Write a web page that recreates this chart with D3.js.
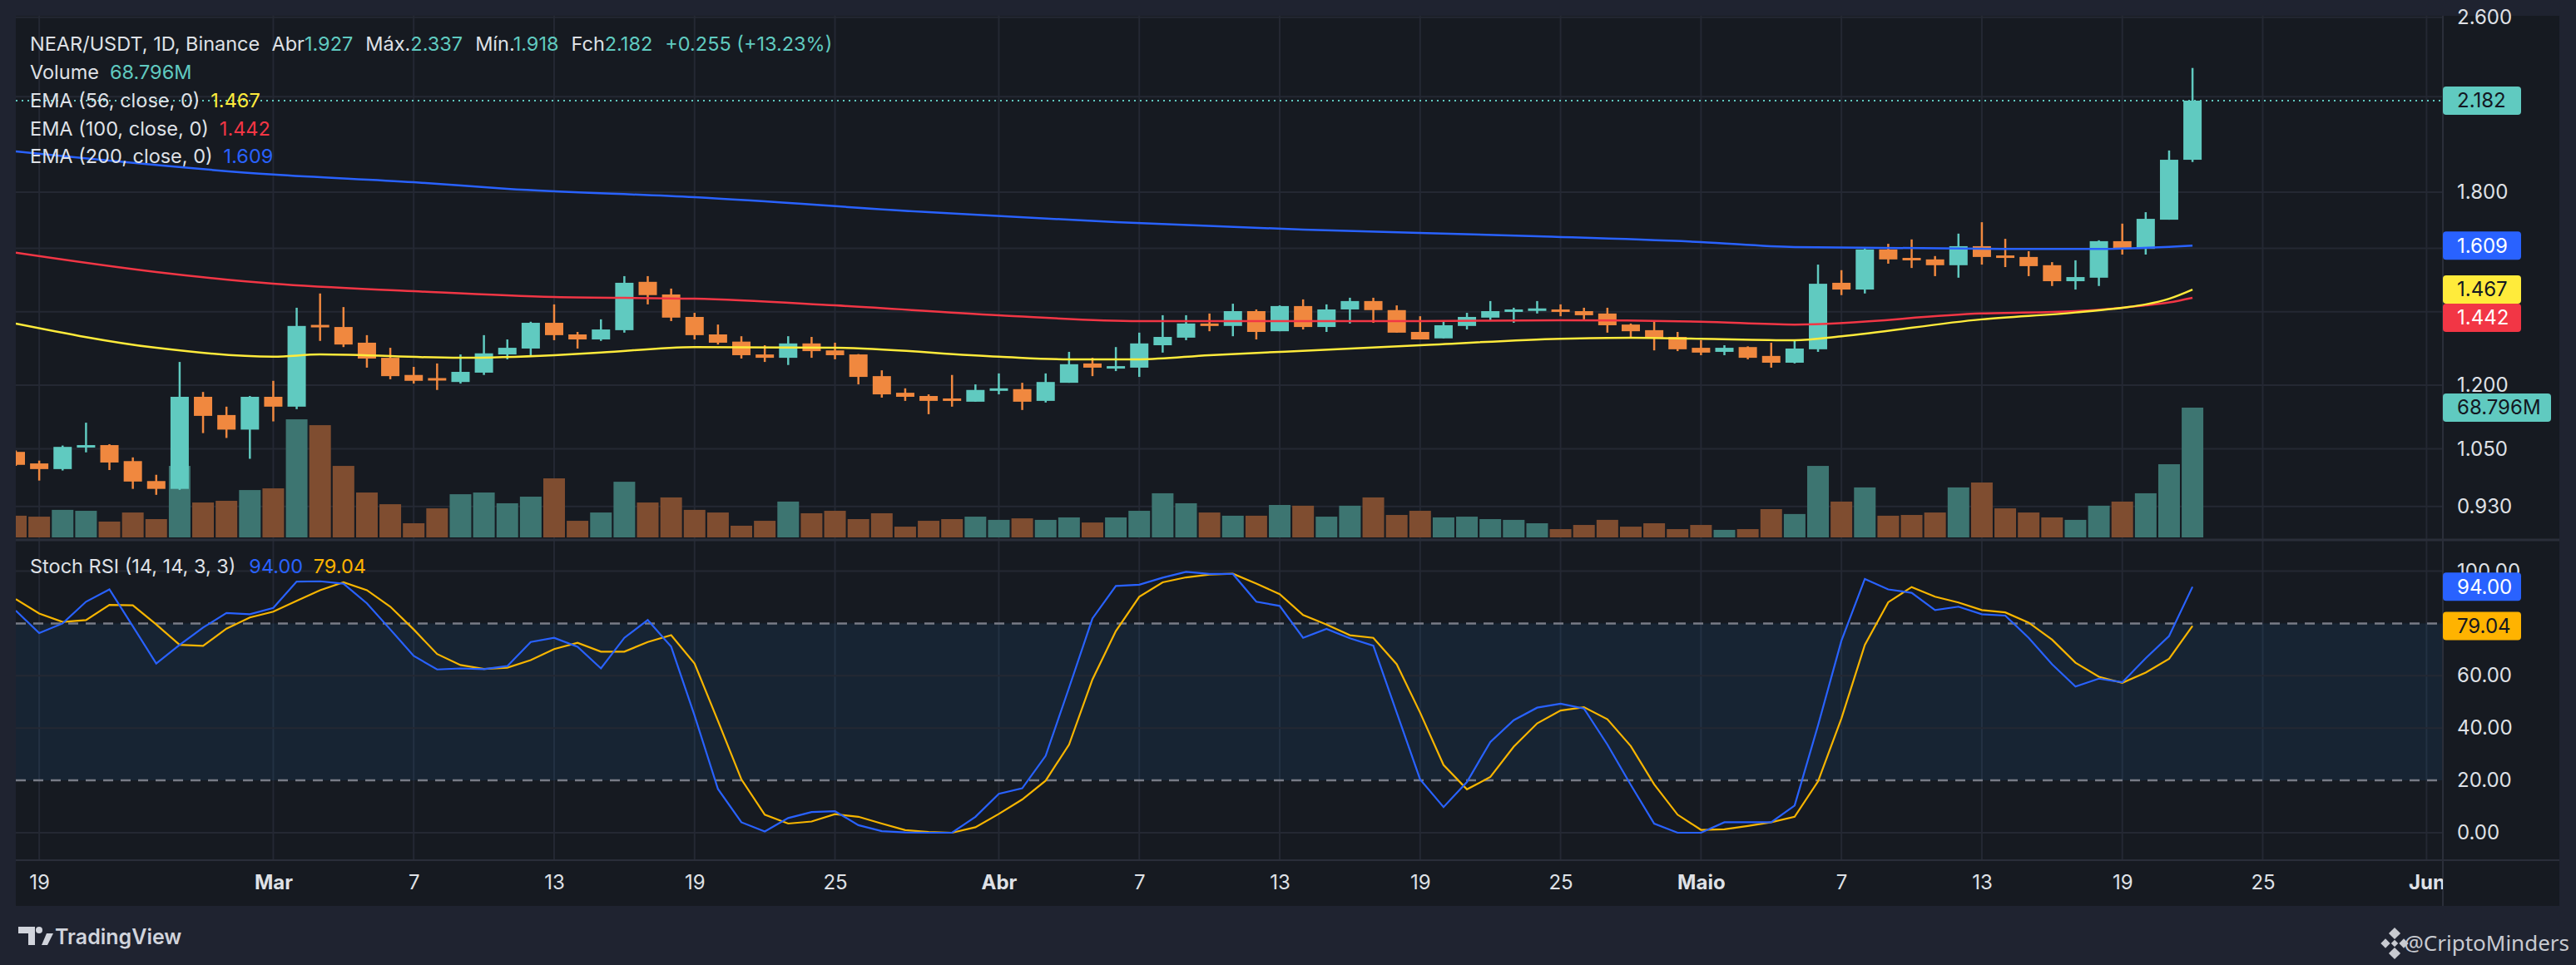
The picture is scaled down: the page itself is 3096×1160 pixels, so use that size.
<!DOCTYPE html>
<html>
<head>
<meta charset="utf-8">
<script src="https://cdn.jsdelivr.net/npm/d3@7"></script>
<style>
html, body { margin: 0; padding: 0; background: #1f2330; }
svg { display: block; font-family: Inter, "Noto Sans", sans-serif; }
</style>
</head>
<body>
<svg id="chart" width="3096" height="1160"></svg>
<script>
// daily candles, NEAR/USDT, first candle = 18 Feb
var startDay = Date.UTC(2023, 1, 18);

var opens = [1.043, 1.018, 1.006, 1.053, 1.058, 1.023, 0.981, 0.965, 1.171, 1.127,
  1.093, 1.171, 1.147, 1.362, 1.356, 1.312, 1.271, 1.226, 1.218, 1.208,
  1.232, 1.280, 1.296, 1.368, 1.335, 1.321, 1.347, 1.491, 1.452, 1.385,
  1.335, 1.315, 1.280, 1.271, 1.310, 1.291, 1.280, 1.223, 1.181, 1.173,
  1.167, 1.159, 1.188, 1.190, 1.161, 1.206, 1.256, 1.245, 1.245, 1.305,
  1.326, 1.366, 1.359, 1.402, 1.344, 1.417, 1.356, 1.407, 1.432, 1.405,
  1.342, 1.324, 1.359, 1.383, 1.402, 1.405, 1.407, 1.402, 1.395, 1.363,
  1.347, 1.328, 1.298, 1.287, 1.300, 1.276, 1.258, 1.294, 1.488, 1.467,
  1.596, 1.568, 1.563, 1.544, 1.607, 1.576, 1.571, 1.544, 1.493, 1.504,
  1.624, 1.598, 1.699, 1.927];
var highs = [1.046, 1.024, 1.057, 1.109, 1.060, 1.031, 0.994, 1.260, 1.183, 1.147,
  1.173, 1.211, 1.412, 1.455, 1.414, 1.333, 1.298, 1.247, 1.256, 1.280,
  1.333, 1.321, 1.371, 1.422, 1.342, 1.378, 1.509, 1.509, 1.470, 1.397,
  1.363, 1.330, 1.305, 1.330, 1.328, 1.312, 1.281, 1.238, 1.192, 1.177,
  1.226, 1.202, 1.230, 1.206, 1.230, 1.287, 1.271, 1.300, 1.340, 1.390,
  1.390, 1.395, 1.424, 1.407, 1.419, 1.437, 1.422, 1.442, 1.442, 1.419,
  1.387, 1.373, 1.397, 1.432, 1.412, 1.432, 1.422, 1.412, 1.412, 1.366,
  1.373, 1.342, 1.319, 1.305, 1.302, 1.312, 1.317, 1.546, 1.528, 1.601,
  1.615, 1.630, 1.574, 1.650, 1.690, 1.632, 1.590, 1.554, 1.560, 1.627,
  1.685, 1.726, 1.965, 2.337];
var lows = [1.013, 0.982, 1.003, 1.042, 1.004, 0.965, 0.953, 0.963, 1.085, 1.074,
  1.028, 1.112, 1.141, 1.317, 1.300, 1.245, 1.215, 1.204, 1.188, 1.204,
  1.226, 1.267, 1.277, 1.319, 1.296, 1.317, 1.340, 1.422, 1.373, 1.321,
  1.307, 1.269, 1.260, 1.252, 1.271, 1.267, 1.202, 1.169, 1.161, 1.129,
  1.147, 1.159, 1.177, 1.139, 1.157, 1.206, 1.223, 1.236, 1.221, 1.285,
  1.319, 1.344, 1.330, 1.321, 1.344, 1.349, 1.342, 1.366, 1.368, 1.340,
  1.321, 1.324, 1.349, 1.375, 1.368, 1.395, 1.387, 1.378, 1.340, 1.326,
  1.291, 1.289, 1.278, 1.278, 1.267, 1.245, 1.256, 1.287, 1.450, 1.455,
  1.549, 1.535, 1.509, 1.504, 1.546, 1.538, 1.509, 1.478, 1.467, 1.478,
  1.579, 1.579, 1.699, 1.918];
var closes = [1.015, 1.006, 1.054, 1.058, 1.020, 0.980, 0.965, 1.171, 1.125, 1.093,
  1.171, 1.147, 1.359, 1.357, 1.307, 1.269, 1.223, 1.211, 1.214, 1.234,
  1.283, 1.298, 1.368, 1.333, 1.321, 1.349, 1.488, 1.450, 1.383, 1.333,
  1.312, 1.278, 1.271, 1.310, 1.289, 1.278, 1.221, 1.177, 1.171, 1.161,
  1.163, 1.188, 1.192, 1.159, 1.208, 1.254, 1.245, 1.249, 1.310, 1.328,
  1.366, 1.359, 1.402, 1.342, 1.417, 1.356, 1.407, 1.432, 1.405, 1.340,
  1.321, 1.361, 1.385, 1.402, 1.407, 1.410, 1.400, 1.390, 1.361, 1.344,
  1.326, 1.294, 1.285, 1.298, 1.271, 1.258, 1.296, 1.485, 1.467, 1.596,
  1.563, 1.563, 1.544, 1.607, 1.571, 1.571, 1.541, 1.493, 1.506, 1.624,
  1.598, 1.702, 1.927, 2.182];
// volume in millions
var volumes = [11.5, 11.0, 14.6, 14.1, 8.4, 13.2, 9.7, 37.9, 18.5, 19.4,
  25.1, 26.0, 62.6, 59.5, 37.9, 23.8, 17.6, 7.5, 15.4, 22.9,
  23.8, 18.1, 21.6, 31.3, 8.8, 13.2, 29.5, 18.5, 21.2, 14.6,
  13.2, 6.2, 8.8, 19.0, 12.8, 14.1, 9.7, 12.8, 5.7, 8.8,
  9.7, 11.0, 9.3, 10.1, 9.3, 10.6, 7.9, 10.6, 14.1, 23.4,
  18.1, 13.2, 11.5, 11.5, 17.2, 16.8, 11.0, 16.8, 21.2, 11.9,
  14.1, 10.6, 11.0, 9.7, 9.3, 7.5, 4.4, 6.6, 9.3, 5.7,
  7.5, 4.4, 6.6, 4.0, 4.4, 15.0, 12.4, 37.9, 19.0, 26.5,
  11.5, 11.9, 13.2, 26.5, 29.1, 15.4, 13.2, 10.6, 9.3, 16.8,
  19.0, 23.4, 38.8, 68.796];

// EMA lines (day index, value)
var ema56Days = [0, 6, 11, 13, 19, 23, 25, 29, 35, 42, 45, 48, 51, 54, 60, 66, 69, 72, 76, 78, 84, 88, 90, 91, 92, 93];
var ema56Vals = [1.366, 1.298, 1.274, 1.280, 1.271, 1.278, 1.285, 1.300, 1.298, 1.274, 1.267, 1.267, 1.278, 1.287, 1.305, 1.323, 1.326, 1.323, 1.319, 1.330, 1.378, 1.398, 1.412, 1.422, 1.439, 1.467];
var ema100Days = [0, 6, 11, 17, 23, 29, 35, 42, 48, 54, 60, 66, 72, 76, 84, 88, 90, 91, 92, 93];
var ema100Vals = [1.585, 1.522, 1.485, 1.462, 1.444, 1.439, 1.419, 1.390, 1.373, 1.373, 1.373, 1.375, 1.371, 1.363, 1.395, 1.402, 1.412, 1.419, 1.428, 1.442];
var ema200Days = [0, 11, 17, 21, 29, 39, 47, 55, 65, 72, 76, 85, 89, 93];
var ema200Vals = [1.961, 1.868, 1.838, 1.813, 1.781, 1.726, 1.690, 1.664, 1.641, 1.621, 1.604, 1.598, 1.598, 1.609];

// Stoch RSI (14,14,3,3)
var stochK = [84.9, 76.3, 80.0, 88.3, 93.0, 78.9, 64.7, 71.8, 78.4, 84.0,
  83.5, 85.9, 96.0, 96.1, 95.2, 87.7, 77.7, 67.6, 62.4, 62.8,
  62.5, 63.7, 72.9, 74.5, 71.1, 62.8, 74.5, 81.3, 71.1, 44.8,
  16.7, 4.0, 0.5, 5.6, 7.9, 8.2, 2.9, 0.6, 0.1, 0.0,
  0.0, 6.1, 14.9, 17.0, 29.4, 55.4, 81.9, 94.3, 94.8, 97.5,
  99.7, 98.9, 98.9, 88.3, 86.7, 74.5, 77.9, 74.3, 71.5, 45.9,
  20.4, 9.8, 19.4, 34.7, 43.0, 47.8, 49.3, 47.5, 33.7, 18.3,
  3.5, 0.0, 0.0, 4.0, 4.0, 4.0, 10.4, 41.0, 73.4, 97.0,
  93.0, 91.7, 85.1, 86.4, 83.5, 83.0, 74.5, 64.4, 55.9, 58.9,
  57.5, 66.7, 75.2, 94.0];
var stochD = [89.3, 83.8, 80.6, 81.3, 87.1, 86.9, 79.6, 71.8, 71.4, 78.0,
  82.3, 84.5, 88.6, 92.7, 95.7, 92.7, 86.4, 77.7, 68.3, 64.1,
  62.6, 63.1, 66.0, 70.2, 72.6, 69.2, 69.2, 72.9, 75.5, 64.7,
  42.7, 20.4, 6.9, 3.5, 4.3, 7.1, 6.1, 3.5, 1.0, 0.3,
  0.0, 2.1, 7.2, 12.7, 19.9, 33.7, 58.6, 77.1, 90.2, 95.7,
  97.6, 98.7, 99.0, 95.2, 91.2, 83.2, 79.6, 75.5, 74.5, 64.4,
  45.9, 25.9, 16.6, 21.3, 32.9, 41.8, 46.7, 48.0, 43.4, 33.1,
  18.5, 6.9, 1.1, 1.3, 2.6, 4.0, 6.1, 19.6, 43.7, 71.8,
  88.1, 93.9, 90.2, 88.0, 85.1, 84.2, 80.3, 73.8, 65.0, 59.6,
  57.3, 61.2, 66.5, 79.04];

// grid levels; labels only where the badges leave them visible
var priceTicks = [0.93, 1.05, 1.2, 1.4, 1.6, 1.8, 2.2, 2.6];
var priceLabels = [0.93, 1.05, 1.2, 1.8, 2.6];
var stochTicks = [0, 20, 40, 60, 80, 100];
var stochLabels = [0, 20, 40, 60, 100];
var timeTicks = ["2023-02-19", "2023-03-01", "2023-03-07", "2023-03-13", "2023-03-19", "2023-03-25",
  "2023-04-01", "2023-04-07", "2023-04-13", "2023-04-19", "2023-04-25",
  "2023-05-01", "2023-05-07", "2023-05-13", "2023-05-19", "2023-05-25", "2023-06-01"];
var monthNames = ["Jan", "Fev", "Mar", "Abr", "Maio", "Jun"];

var upColor = "#60cac0", downColor = "#f0883f";
var upVol = "#3d7571", downVol = "#7f4d30";
var gridColor = "#242833", textColor = "#dfe1e6";

var DAY = 86400000;
function dayDate(i) { return new Date(startDay + i * DAY); }

var plotLeft = 19, plotRight = 2936, axisEnd = 3076;
var frameTop = 19, paneSep = 649, stochBottom = 1034, frameBottom = 1089;

var x = d3.scaleUtc().domain([dayDate(0), dayDate(103)]).range([19, 2916.4]);
var y = d3.scaleLog().domain([0.93, 2.6]).range([608.8, 20.7]);
var yv = d3.scaleLinear().domain([0, 68.796]).range([646, 490]);
var ys = d3.scaleLinear().domain([0, 100]).range([1001, 686.5]);

var svg = d3.select("#chart");

// frame background
svg.append("rect").attr("x", 0).attr("y", 0).attr("width", 3096).attr("height", 1160).attr("fill", "#1f2330");
svg.append("rect").attr("x", plotLeft).attr("y", frameTop)
  .attr("width", axisEnd - plotLeft).attr("height", frameBottom - frameTop).attr("fill", "#161a21");

var defs = svg.append("defs");
defs.append("clipPath").attr("id", "clipPrice").append("rect")
  .attr("x", plotLeft).attr("y", frameTop).attr("width", plotRight - plotLeft).attr("height", paneSep - frameTop);
defs.append("clipPath").attr("id", "clipStoch").append("rect")
  .attr("x", plotLeft).attr("y", paneSep).attr("width", plotRight - plotLeft).attr("height", stochBottom - paneSep);
defs.append("clipPath").attr("id", "clipTime").append("rect")
  .attr("x", plotLeft).attr("y", stochBottom).attr("width", plotRight - plotLeft).attr("height", frameBottom - stochBottom);

// vertical grid
var tickDates = timeTicks.map(function (s) { return new Date(s + "T00:00:00Z"); });
svg.append("g").selectAll("line").data(tickDates).enter().append("line")
  .attr("x1", function (d) { return x(d); }).attr("x2", function (d) { return x(d); })
  .attr("y1", frameTop).attr("y2", stochBottom)
  .attr("stroke", gridColor).attr("stroke-width", 2);

// ---- price pane ----
var pricePane = svg.append("g").attr("clip-path", "url(#clipPrice)");

pricePane.append("g").selectAll("line").data(priceTicks).enter().append("line")
  .attr("x1", plotLeft).attr("x2", plotRight)
  .attr("y1", function (d) { return y(d); }).attr("y2", function (d) { return y(d); })
  .attr("stroke", gridColor).attr("stroke-width", 2);

var idx = d3.range(opens.length);

pricePane.append("g").selectAll("rect").data(idx).enter().append("rect")
  .attr("x", function (i) { return x(dayDate(i)) - 13; })
  .attr("width", 26)
  .attr("y", function (i) { return yv(volumes[i]); })
  .attr("height", function (i) { return yv(0) - yv(volumes[i]); })
  .attr("fill", function (i) { return closes[i] >= opens[i] ? upVol : downVol; });

var candles = pricePane.append("g");
candles.selectAll("line").data(idx).enter().append("line")
  .attr("x1", function (i) { return x(dayDate(i)); })
  .attr("x2", function (i) { return x(dayDate(i)); })
  .attr("y1", function (i) { return y(highs[i]); })
  .attr("y2", function (i) { return y(lows[i]); })
  .attr("stroke", function (i) { return closes[i] >= opens[i] ? upColor : downColor; })
  .attr("stroke-width", 2.5);
candles.selectAll("rect").data(idx).enter().append("rect")
  .attr("x", function (i) { return x(dayDate(i)) - 11; })
  .attr("width", 22)
  .attr("y", function (i) { return y(Math.max(opens[i], closes[i])); })
  .attr("height", function (i) { return Math.max(3, Math.abs(y(opens[i]) - y(closes[i]))); })
  .attr("fill", function (i) { return closes[i] >= opens[i] ? upColor : downColor; });

function emaLine(days, vals, color) {
  var line = d3.line()
    .x(function (d) { return x(dayDate(d)); })
    .y(function (d, k) { return y(vals[k]); })
    .curve(d3.curveMonotoneX);
  pricePane.append("path").attr("d", line(days))
    .attr("fill", "none").attr("stroke", color).attr("stroke-width", 2.5);
}
emaLine(ema200Days, ema200Vals, "#2962ff");
emaLine(ema100Days, ema100Vals, "#f23645");
emaLine(ema56Days, ema56Vals, "#ffeb3b");

var lastClose = closes[closes.length - 1];
pricePane.append("line").attr("x1", plotLeft).attr("x2", plotRight)
  .attr("y1", y(lastClose)).attr("y2", y(lastClose))
  .attr("stroke", upColor).attr("stroke-width", 2).attr("stroke-dasharray", "2 5");

// ---- stoch pane ----
var stochPane = svg.append("g").attr("clip-path", "url(#clipStoch)");
stochPane.append("rect").attr("x", plotLeft).attr("width", plotRight - plotLeft)
  .attr("y", ys(80)).attr("height", ys(20) - ys(80)).attr("fill", "rgba(33,150,243,0.085)");
stochPane.append("g").selectAll("line").data([0, 40, 60, 100]).enter().append("line")
  .attr("x1", plotLeft).attr("x2", plotRight)
  .attr("y1", function (d) { return ys(d); }).attr("y2", function (d) { return ys(d); })
  .attr("stroke", gridColor).attr("stroke-width", 2);
stochPane.append("g").selectAll("line").data([20, 80]).enter().append("line")
  .attr("x1", plotLeft).attr("x2", plotRight)
  .attr("y1", function (d) { return ys(d); }).attr("y2", function (d) { return ys(d); })
  .attr("stroke", "#787b86").attr("stroke-width", 2.5).attr("stroke-dasharray", "12 9");

var stochLine = function (vals) {
  return d3.line().x(function (d, i) { return x(dayDate(i)); }).y(function (d) { return ys(d); })(vals);
};
stochPane.append("path").attr("d", stochLine(stochD)).attr("fill", "none").attr("stroke", "#f7b500").attr("stroke-width", 2.2);
stochPane.append("path").attr("d", stochLine(stochK)).attr("fill", "none").attr("stroke", "#2962ff").attr("stroke-width", 2.2);

// ---- borders ----
svg.append("line").attr("x1", plotLeft).attr("x2", axisEnd).attr("y1", paneSep).attr("y2", paneSep)
  .attr("stroke", "#2a2e39").attr("stroke-width", 3);
svg.append("line").attr("x1", plotLeft).attr("x2", axisEnd).attr("y1", stochBottom).attr("y2", stochBottom)
  .attr("stroke", "#2a2e39").attr("stroke-width", 2);
svg.append("line").attr("x1", plotRight).attr("x2", plotRight).attr("y1", frameTop).attr("y2", frameBottom)
  .attr("stroke", "#2a2e39").attr("stroke-width", 2);

// ---- axes ----
var priceAxis = svg.append("g").attr("transform", "translate(" + plotRight + ",0)")
  .call(d3.axisRight(y).tickValues(priceLabels).tickSize(0).tickPadding(17).tickFormat(d3.format(".3f")));
var stochAxis = svg.append("g").attr("transform", "translate(" + plotRight + ",0)")
  .call(d3.axisRight(ys).tickValues(stochLabels).tickSize(0).tickPadding(17).tickFormat(d3.format(".2f")));
[priceAxis, stochAxis].forEach(function (g) {
  g.select(".domain").remove();
  g.selectAll("text").attr("fill", textColor).attr("font-size", 24).attr("font-family", "Inter, sans-serif");
});
// the 100.00 label sits half under the K badge: show only its top part
defs.append("clipPath").attr("id", "clipTop100").append("rect")
  .attr("x", plotRight).attr("y", 660).attr("width", 140).attr("height", 28);
stochAxis.selectAll(".tick").filter(function (d) { return d === 100; })
  .select("text").attr("y", -8).attr("dy", "0.35em");
stochAxis.selectAll(".tick").filter(function (d) { return d === 100; })
  .attr("clip-path", null);
var top100 = stochAxis.selectAll(".tick").filter(function (d) { return d === 100; });
top100.select("text").attr("y", 0);

var timeAxis = svg.append("g").attr("clip-path", "url(#clipTime)")
  .append("g").attr("transform", "translate(0," + stochBottom + ")")
  .call(d3.axisBottom(x).tickValues(tickDates).tickSize(0).tickPadding(18)
    .tickFormat(function (d) { return d.getUTCDate() === 1 ? monthNames[d.getUTCMonth()] : String(d.getUTCDate()); }));
timeAxis.select(".domain").remove();
timeAxis.selectAll("text").attr("fill", textColor).attr("font-size", 24).attr("font-family", "Inter, sans-serif")
  .attr("font-weight", function (d) { return d.getUTCDate() === 1 ? 700 : 400; });

// ---- value badges ----
function placeBadges(items) {
  items.sort(function (a, b) { return a.y - b.y; });
  for (var k = 1; k < items.length; k++) {
    if (items[k].y < items[k - 1].y + 34) items[k].y = items[k - 1].y + 34;
  }
  items.forEach(function (b) {
    var g = svg.append("g");
    g.append("rect").attr("x", plotRight).attr("y", b.y - 17).attr("width", b.w || 94).attr("height", 34)
      .attr("rx", 4).attr("fill", b.bg);
    g.append("text").attr("x", plotRight + 17).attr("y", b.y).attr("dy", "0.35em")
      .attr("font-size", 24).attr("fill", b.fg).text(b.label);
  });
}
placeBadges([
  { y: y(lastClose), label: d3.format(".3f")(lastClose), bg: upColor, fg: "#131722" },
  { y: y(ema200Vals[ema200Vals.length - 1]), label: "1.609", bg: "#2962ff", fg: "#ffffff" },
  { y: y(ema56Vals[ema56Vals.length - 1]), label: "1.467", bg: "#ffeb3b", fg: "#131722" },
  { y: y(ema100Vals[ema100Vals.length - 1]), label: "1.442", bg: "#f23645", fg: "#ffffff" },
  { y: yv(volumes[volumes.length - 1]), label: "68.796M", bg: upColor, fg: "#131722", w: 130 }
]);
placeBadges([
  { y: ys(stochK[stochK.length - 1]), label: "94.00", bg: "#2962ff", fg: "#ffffff" },
  { y: ys(stochD[stochD.length - 1]), label: "79.04", bg: "#ffb300", fg: "#131722" }
]);

// ---- legends ----
function legend(yc, parts) {
  var t = svg.append("text").attr("x", 36).attr("y", yc).attr("dy", "0.35em").attr("font-size", 23.5);
  parts.forEach(function (p) {
    t.append("tspan").attr("fill", p[1]).attr("dx", p[2] || 0).text(p[0]);
  });
}
var teal = upColor;
legend(53, [["NEAR/USDT, 1D, Binance", textColor], ["Abr", textColor, 15], ["1.927", teal],
  ["Máx.", textColor, 15], ["2.337", teal], ["Mín.", textColor, 15], ["1.918", teal],
  ["Fch", textColor, 15], ["2.182", teal], ["+0.255 (+13.23%)", teal, 15]]);
legend(87, [["Volume", textColor], ["68.796M", teal, 13]]);
legend(121, [["EMA (56, close, 0)", textColor], ["1.467", "#ffeb3b", 13]]);
legend(155, [["EMA (100, close, 0)", textColor], ["1.442", "#f23645", 13]]);
legend(188, [["EMA (200, close, 0)", textColor], ["1.609", "#2962ff", 13]]);
legend(681, [["Stoch RSI (14, 14, 3, 3)", textColor], ["94.00", "#2962ff", 16], ["79.04", "#ffb300", 13]]);

// ---- footer ----
var logo = svg.append("g").attr("fill", "#d1d4dc");
logo.append("path").attr("d", "M22,1114 h20 v22 h-8 v-14 h-12 z");
logo.append("circle").attr("cx", 47).attr("cy", 1118).attr("r", 4);
logo.append("path").attr("d", "M50,1136 l6,-14 h8 l-7,14 z");
svg.append("text").attr("x", 66).attr("y", 1126).attr("dy", "0.35em")
  .attr("font-size", 25).attr("font-weight", 600).attr("fill", "#d1d4dc").text("TradingView");

var bnb = svg.append("g").attr("fill", "#c8cad0");
[[2878, 1122, 5], [2867, 1134, 4], [2889, 1134, 4], [2878, 1146, 5], [2878, 1134, 3]].forEach(function (d) {
  bnb.append("rect").attr("x", d[0] - d[2]).attr("y", d[1] - d[2]).attr("width", 2 * d[2]).attr("height", 2 * d[2])
    .attr("transform", "rotate(45," + d[0] + "," + d[1] + ")");
});
svg.append("text").attr("x", 3088).attr("y", 1134).attr("dy", "0.35em").attr("text-anchor", "end")
  .attr("font-size", 26).attr("font-family", "'Noto Sans', sans-serif").attr("fill", "#c8cad0").text("@CriptoMinders");
</script>
</body>
</html>
